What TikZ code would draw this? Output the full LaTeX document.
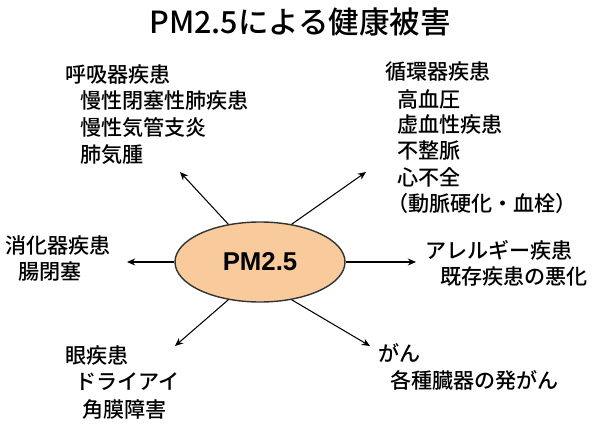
\documentclass[tikz,border=0pt]{standalone}
\usepackage{fontspec}
\setmainfont{Noto Sans CJK JP}[BoldFont={Noto Sans CJK JP Bold}]
\newfontfamily\jpmed{Noto Sans CJK JP Medium}
\setsansfont{Liberation Sans}
\usetikzlibrary{shapes.geometric,arrows.meta}
\tikzset{
  txt/.style={anchor=west, inner sep=0pt, font=\jpmed\fontsize{18}{20}\selectfont},
  ray/.style={-{Stealth[length=7pt,width=6pt]}, line width=0.9pt}
}
\begin{document}
\begin{tikzpicture}[x=0.03cm, y=-0.03cm]
\useasboundingbox (0,0) rectangle (600,427);
\node[font=\jpmed\fontsize{26}{28}\selectfont] (title) at (300,22) {PM2.5による健康被害};
\node[ellipse, draw=black!80, line width=1.2pt, fill={rgb,255:red,249;green,203;blue,156},
  minimum width=170*0.03cm, minimum height=80*0.03cm, font=\sffamily\bfseries\fontsize{22}{24}\selectfont] (pm) at (260,262) {PM2.5};
% respiratory
\node[txt] (r1) at (65,75) {呼吸器疾患};
\node[txt] (r2) at (80,101) {慢性閉塞性肺疾患};
\node[txt] (r3) at (80,128) {慢性気管支炎};
\node[txt] (r4) at (80,155) {肺気腫};
% circulatory
\node[txt] (c1) at (385,72) {循環器疾患};
\node[txt] (c2) at (397,99) {高血圧};
\node[txt] (c3) at (397,125) {虚血性疾患};
\node[txt] (c4) at (397,151) {不整脈};
\node[txt] (c5) at (397,177) {心不全};
\node[txt] (c6) at (387,203) {（動脈硬化・血栓）};
% digestive
\node[txt] (d1) at (5,246) {消化器疾患};
\node[txt] (d2) at (18,272) {腸閉塞};
% allergy
\node[txt] (a1) at (425,250) {アレルギー疾患};
\node[txt] (a2) at (440,277) {既存疾患の悪化};
% eye
\node[txt] (e1) at (65,356) {眼疾患};
\node[txt] (e2) at (75,382) {ドライアイ};
\node[txt] (e3) at (82,409) {角膜障害};
% cancer
\node[txt] (k1) at (378,353) {がん};
\node[txt] (k2) at (390,380) {各種臓器の発がん};
% ray ends
\coordinate (ul) at (180,172);
\coordinate (ur) at (366,172);
\coordinate (lf) at (127,262);
\coordinate (rt) at (416,262);
\coordinate (ll) at (175,346);
\coordinate (lr) at (370,346);
\draw[ray] (pm.130) -- (ul);
\draw[ray] (pm.50) -- (ur);
\draw[ray] (pm.west) -- (lf);
\draw[ray] (pm.east) -- (rt);
\draw[ray] (pm.230) -- (ll);
\draw[ray] (pm.310) -- (lr);
\end{tikzpicture}
\end{document}
